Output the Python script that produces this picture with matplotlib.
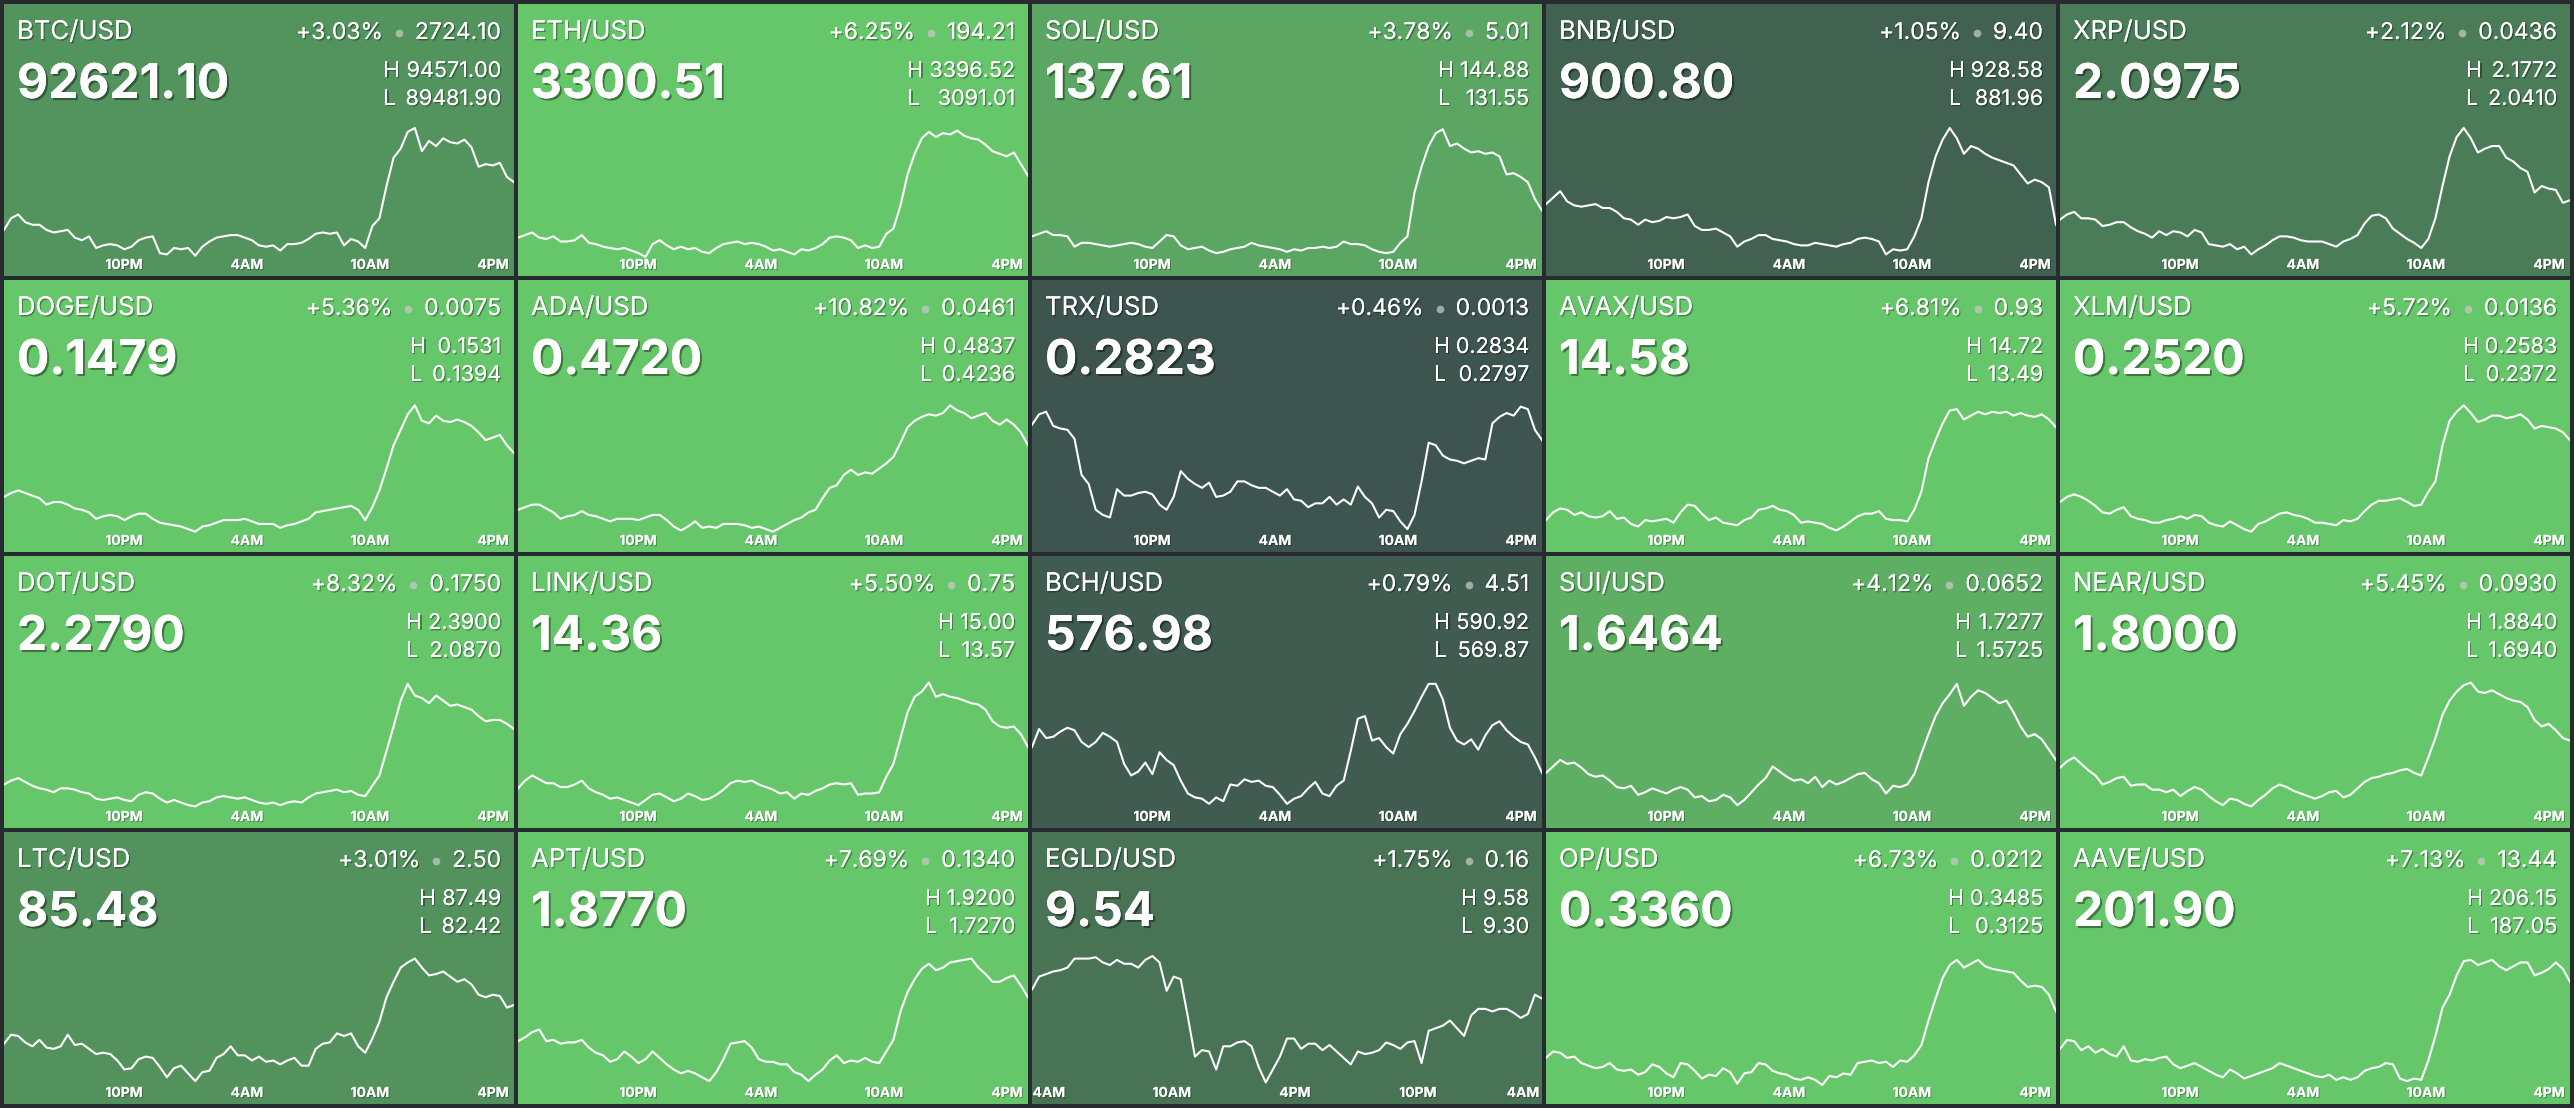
import numpy as np
import matplotlib
matplotlib.use("Agg")
import matplotlib.pyplot as plt
import matplotlib.patheffects as pe

# ---- tile text data ----
pairs = ["BTC/USD", "ETH/USD", "SOL/USD", "BNB/USD", "XRP/USD",
         "DOGE/USD", "ADA/USD", "TRX/USD", "AVAX/USD", "XLM/USD",
         "DOT/USD", "LINK/USD", "BCH/USD", "SUI/USD", "NEAR/USD",
         "LTC/USD", "APT/USD", "EGLD/USD", "OP/USD", "AAVE/USD"]
prices = ["92621.10", "3300.51", "137.61", "900.80", "2.0975",
          "0.1479", "0.4720", "0.2823", "14.58", "0.2520",
          "2.2790", "14.36", "576.98", "1.6464", "1.8000",
          "85.48", "1.8770", "9.54", "0.3360", "201.90"]
pct_change = [3.03, 6.25, 3.78, 1.05, 2.12,
              5.36, 10.82, 0.46, 6.81, 5.72,
              8.32, 5.50, 0.79, 4.12, 5.45,
              3.01, 7.69, 1.75, 6.73, 7.13]
abs_change = ["2724.10", "194.21", "5.01", "9.40", "0.0436",
              "0.0075", "0.0461", "0.0013", "0.93", "0.0136",
              "0.1750", "0.75", "4.51", "0.0652", "0.0930",
              "2.50", "0.1340", "0.16", "0.0212", "13.44"]
highs = ["94571.00", "3396.52", "144.88", "928.58", "2.1772",
         "0.1531", "0.4837", "0.2834", "14.72", "0.2583",
         "2.3900", "15.00", "590.92", "1.7277", "1.8840",
         "87.49", "1.9200", "9.58", "0.3485", "206.15"]
lows = ["89481.90", "3091.01", "131.55", "881.96", "2.0410",
        "0.1394", "0.4236", "0.2797", "13.49", "0.2372",
        "2.0870", "13.57", "569.87", "1.5725", "1.6940",
        "82.42", "1.7270", "9.30", "0.3125", "187.05"]

# ---- 24h sparklines, level within each tile's range (0 = low, 100 = high) ----
btc = [21, 30, 33, 27, 25, 25, 21, 19, 20, 21, 15, 13, 16, 7, 9, 10, 9, 6, 8, 13,
       15, 16, 3, 2, 7, 6, 7, 1, 8, 12, 15, 16, 17, 17, 15, 13, 9, 8, 9, 5,
       10, 10, 11, 14, 18, 19, 18, 19, 9, 14, 12, 7, 24, 30, 55, 77, 84, 97, 100, 82,
       90, 86, 92, 89, 88, 91, 85, 70, 72, 71, 73, 62, 58]
eth = [15, 17, 19, 15, 14, 16, 12, 12, 13, 17, 11, 10, 8, 7, 6, 7, 5, 3, 0, 10,
       13, 9, 6, 8, 6, 7, 4, 3, 7, 10, 11, 12, 10, 11, 10, 8, 5, 6, 4, 2,
       6, 5, 7, 10, 15, 16, 15, 13, 7, 9, 7, 8, 18, 22, 40, 64, 80, 92, 97, 93,
       96, 95, 98, 94, 92, 91, 87, 82, 80, 78, 81, 72, 63]
sol = [16, 18, 20, 17, 17, 16, 8, 11, 11, 10, 9, 8, 9, 10, 11, 10, 8, 7, 12, 17,
       16, 9, 6, 7, 8, 5, 3, 4, 6, 7, 8, 11, 9, 8, 7, 6, 4, 6, 5, 7,
       7, 8, 7, 8, 12, 10, 10, 9, 6, 4, 3, 4, 11, 16, 50, 70, 86, 96, 99, 86,
       88, 84, 81, 82, 80, 81, 78, 64, 65, 62, 58, 45, 36]
bnb = [41, 46, 51, 43, 40, 39, 40, 41, 38, 38, 35, 30, 29, 25, 29, 27, 28, 31, 30, 31,
       33, 24, 21, 21, 22, 19, 16, 8, 12, 14, 17, 17, 14, 13, 12, 10, 9, 9, 11, 10,
       9, 8, 10, 11, 14, 15, 14, 12, 2, 6, 5, 6, 16, 30, 58, 78, 91, 100, 92, 80,
       86, 84, 80, 77, 75, 73, 71, 64, 57, 60, 58, 54, 25]
xrp = [29, 33, 35, 30, 30, 29, 24, 25, 27, 27, 23, 20, 18, 15, 20, 17, 20, 19, 16, 21,
       19, 10, 9, 8, 10, 6, 8, 2, 6, 9, 13, 16, 16, 15, 13, 12, 12, 12, 10, 8,
       12, 14, 17, 26, 32, 33, 30, 22, 18, 14, 11, 7, 14, 30, 55, 78, 93, 100, 92, 81,
       84, 86, 86, 77, 74, 69, 66, 50, 55, 53, 52, 42, 44]
doge = [28, 31, 33, 31, 29, 27, 22, 24, 24, 22, 19, 18, 16, 11, 13, 14, 13, 10, 13, 15,
        15, 11, 8, 7, 6, 5, 3, 1, 5, 6, 8, 10, 10, 10, 11, 9, 7, 7, 7, 4,
        6, 7, 9, 11, 16, 17, 18, 19, 20, 21, 18, 10, 20, 33, 50, 68, 80, 92, 99, 87,
        85, 91, 87, 86, 88, 86, 83, 78, 72, 74, 76, 68, 62]
ada = [18, 20, 22, 22, 19, 16, 11, 13, 14, 17, 14, 13, 11, 9, 11, 11, 11, 10, 12, 14,
       14, 10, 5, 2, 5, 9, 4, 5, 4, 7, 7, 7, 6, 4, 5, 3, 1, 4, 7, 10,
       12, 16, 18, 27, 35, 37, 45, 49, 45, 47, 46, 50, 54, 59, 70, 82, 87, 90, 92, 91,
       93, 99, 95, 93, 89, 91, 93, 87, 84, 88, 84, 78, 68]
trx = [84, 92, 94, 83, 81, 80, 73, 45, 38, 18, 14, 12, 34, 29, 29, 31, 32, 30, 22, 18,
       28, 48, 42, 38, 35, 39, 28, 29, 32, 40, 40, 37, 35, 35, 32, 29, 34, 26, 25, 20,
       23, 23, 28, 22, 26, 22, 36, 28, 23, 12, 18, 17, 9, 3, 14, 40, 70, 68, 60, 57,
       56, 54, 56, 58, 57, 85, 90, 93, 91, 98, 96, 80, 72]
avax = [10, 16, 19, 18, 14, 16, 13, 12, 13, 17, 11, 12, 7, 5, 10, 9, 10, 11, 8, 16,
        22, 21, 15, 10, 12, 8, 7, 6, 10, 12, 18, 19, 21, 18, 17, 14, 8, 9, 8, 7,
        4, 2, 5, 9, 13, 15, 15, 17, 11, 10, 10, 9, 18, 32, 58, 72, 85, 95, 96, 88,
        91, 94, 92, 94, 93, 94, 91, 93, 91, 90, 92, 88, 82]
xlm = [24, 28, 30, 28, 25, 21, 16, 15, 18, 20, 13, 11, 10, 8, 8, 10, 11, 13, 11, 14,
       13, 8, 6, 5, 9, 6, 3, 1, 7, 9, 12, 15, 16, 14, 13, 11, 8, 8, 7, 6,
       10, 9, 11, 17, 22, 25, 25, 26, 27, 24, 21, 22, 32, 40, 68, 87, 94, 99, 93, 86,
       88, 91, 91, 89, 90, 92, 88, 81, 83, 82, 81, 78, 72]
dot = [19, 22, 24, 21, 18, 16, 15, 13, 16, 16, 15, 13, 12, 8, 7, 8, 9, 7, 6, 11,
       13, 12, 8, 5, 7, 5, 3, 2, 5, 6, 9, 10, 9, 8, 9, 7, 5, 4, 5, 3,
       5, 6, 5, 9, 12, 13, 14, 15, 13, 14, 11, 10, 18, 26, 45, 64, 84, 97, 88, 86,
       82, 88, 84, 80, 81, 79, 77, 72, 68, 69, 69, 66, 62]
link = [16, 22, 26, 23, 20, 20, 17, 17, 19, 22, 16, 13, 11, 8, 9, 7, 5, 3, 7, 11,
        12, 9, 6, 8, 12, 10, 7, 8, 11, 15, 20, 22, 21, 22, 19, 17, 15, 12, 13, 8,
        12, 11, 14, 16, 19, 20, 19, 20, 11, 12, 12, 13, 25, 35, 55, 75, 87, 91, 98, 87,
        89, 87, 86, 84, 82, 81, 77, 68, 64, 63, 64, 58, 48]
bch = [48, 62, 55, 56, 60, 63, 61, 52, 48, 52, 59, 56, 52, 35, 26, 29, 36, 27, 44, 38,
       34, 22, 12, 9, 8, 4, 9, 6, 19, 18, 23, 21, 22, 18, 17, 11, 4, 8, 10, 16,
       21, 12, 10, 18, 22, 45, 70, 72, 53, 55, 48, 43, 58, 66, 76, 87, 97, 97, 85, 63,
       53, 50, 54, 46, 57, 65, 68, 61, 56, 52, 50, 40, 28]
sui = [28, 33, 38, 35, 36, 32, 27, 25, 26, 22, 17, 16, 18, 11, 13, 16, 14, 12, 15, 17,
       15, 9, 10, 6, 7, 11, 9, 3, 7, 13, 19, 24, 33, 29, 25, 22, 23, 20, 25, 17,
       22, 19, 21, 24, 27, 28, 23, 20, 12, 18, 17, 19, 27, 43, 58, 72, 82, 89, 97, 80,
       87, 92, 90, 86, 82, 84, 75, 64, 56, 58, 54, 46, 38]
near = [32, 37, 40, 35, 30, 26, 19, 21, 24, 25, 18, 19, 19, 15, 15, 13, 15, 10, 14, 17,
        15, 10, 6, 3, 8, 7, 4, 2, 7, 11, 16, 19, 17, 14, 12, 10, 8, 10, 13, 14,
        9, 11, 16, 21, 24, 25, 27, 28, 30, 31, 28, 26, 40, 55, 73, 84, 91, 96, 98, 91,
        90, 92, 89, 86, 84, 83, 79, 69, 64, 66, 61, 55, 53]
ltc = [32, 39, 38, 33, 30, 35, 29, 28, 30, 39, 31, 32, 28, 24, 25, 24, 19, 12, 13, 20,
       22, 21, 14, 6, 13, 15, 9, 3, 10, 11, 21, 24, 30, 23, 23, 19, 22, 18, 19, 16,
       19, 21, 15, 15, 28, 32, 33, 40, 38, 40, 30, 25, 36, 49, 68, 80, 91, 95, 98, 91,
       85, 86, 88, 84, 80, 82, 78, 70, 68, 70, 69, 60, 62]
apt = [34, 37, 41, 43, 34, 35, 32, 33, 33, 35, 29, 25, 23, 18, 20, 26, 22, 17, 20, 26,
       21, 16, 12, 9, 11, 9, 6, 3, 10, 20, 32, 33, 34, 29, 20, 18, 18, 16, 16, 10,
       8, 3, 8, 12, 19, 23, 17, 19, 18, 21, 18, 17, 26, 35, 57, 72, 82, 90, 94, 89,
       91, 95, 96, 97, 98, 91, 86, 80, 80, 83, 85, 77, 68]
egld = [74, 84, 86, 88, 89, 91, 98, 98, 98, 99, 95, 93, 97, 94, 94, 91, 97, 100, 95, 73,
        84, 82, 53, 22, 27, 26, 12, 30, 30, 33, 34, 30, 14, 2, 12, 22, 36, 36, 28, 32,
        32, 27, 31, 26, 21, 16, 26, 24, 25, 27, 33, 31, 28, 33, 34, 17, 42, 44, 46, 50,
        44, 38, 54, 59, 59, 57, 59, 59, 56, 52, 55, 70, 67]
op = [21, 26, 25, 21, 22, 17, 15, 13, 14, 17, 12, 11, 12, 8, 10, 16, 14, 9, 6, 17,
      16, 11, 5, 8, 7, 13, 10, 1, 9, 10, 17, 16, 11, 9, 8, 5, 4, 6, 4, 0,
      7, 6, 9, 8, 17, 18, 19, 17, 18, 14, 19, 18, 23, 31, 50, 67, 83, 93, 97, 91,
      94, 97, 92, 90, 89, 88, 87, 81, 76, 77, 76, 70, 57]
aave = [28, 35, 34, 27, 30, 25, 28, 24, 22, 30, 19, 18, 20, 19, 21, 22, 16, 13, 15, 17,
        14, 11, 8, 6, 12, 9, 5, 7, 9, 11, 13, 17, 15, 13, 11, 9, 7, 6, 8, 4,
        6, 4, 6, 11, 13, 14, 17, 16, 5, 3, 5, 4, 19, 38, 60, 70, 85, 96, 97, 93,
        95, 97, 92, 89, 92, 95, 95, 85, 87, 90, 95, 90, 80]
sparks = [btc, eth, sol, bnb, xrp, doge, ada, trx, avax, xlm,
          dot, link, bch, sui, near, ltc, apt, egld, op, aave]

# time axis (hours over the window) and its tick labels
span_hours = 24.88
std_ticks = [5.85, 11.85, 17.85, 23.85]
std_labels = ["10PM", "4AM", "10AM", "4PM"]
egld_ticks = [0.82, 6.82, 12.82, 18.82, 23.95]
egld_labels = ["4AM", "10AM", "4PM", "10PM", "4AM"]

# ---- layout (pixels) ----
W, H = 2574, 1108
GAP = 4
TW = (W - 6 * GAP) / 5
TH = (H - 5 * GAP) / 4
BG = "#272a2f"
DARK = np.array([58, 76, 76]) / 255
BRIGHT = np.array([102, 199, 106]) / 255
FONT = "Inter"


def tile_color(p):
    t = min(max(p / 5.0, 0.0), 1.0) ** 1.1
    return DARK + (BRIGHT - DARK) * t


def shadow(off=1.0, a=0.35):
    return [pe.withSimplePatchShadow(offset=(off, -off), shadow_rgbFace="black", alpha=a), pe.Normal()]


fig = plt.figure(figsize=(W / 100, H / 100), dpi=100)
fig.patch.set_facecolor(BG)
renderer = fig.canvas.get_renderer()


def put(ax, px, py, s, **kw):
    # px, py in pixels from tile's top-left corner
    return ax.text(px / TW, 1 - py / TH, s, transform=ax.transAxes, **kw)


def width_px(t):
    return t.get_window_extent(renderer).width


for k in range(20):
    r, c = divmod(k, 5)
    x0 = GAP + c * (TW + GAP)
    y0 = GAP + r * (TH + GAP)
    ax = fig.add_axes([x0 / W, 1 - (y0 + TH) / H, TW / W, TH / H])
    ax.set_facecolor(tile_color(pct_change[k]))
    for sp in ax.spines.values():
        sp.set_visible(False)
    ax.set_xticks([])
    ax.set_yticks([])

    lv = sparks[k]
    xs = np.linspace(0, span_hours, len(lv))
    ax.plot(xs, lv, color="white", lw=1.5, solid_joinstyle="round")
    ax.set_xlim(0, span_hours)
    # level 100 sits 124px below tile top, level 0 at 253px
    top_lv = 100 + 124 / 129 * 100
    bot_lv = -(TH - 253) / 129 * 100
    ax.set_ylim(bot_lv, top_lv)

    ticks, labels = (egld_ticks, egld_labels) if pairs[k] == "EGLD/USD" else (std_ticks, std_labels)
    for tx, tl in zip(ticks, labels):
        ax.text(tx, 1 - 265 / TH, tl, transform=ax.get_xaxis_transform(),
                ha="center", va="baseline", fontsize=10, fontweight="bold",
                family=FONT, color="white", alpha=0.92, path_effects=shadow(0.8, 0.3))

    # pair and last price
    put(ax, 13, 35, pairs[k], ha="left", va="baseline", fontsize=18.5,
        family=FONT, color="white", path_effects=shadow())
    put(ax, 13, 94, prices[k], ha="left", va="baseline", fontsize=34.5,
        fontweight="bold", family=FONT, color="white", path_effects=shadow(1.5, 0.4))

    # change line: "+x.xx%  •  change"
    right = 497
    t_chg = put(ax, right, 35, abs_change[k], ha="right", va="baseline", fontsize=16.5,
                family=FONT, color="white", path_effects=shadow())
    chg_left = right - width_px(t_chg)
    dot_x = chg_left - 16
    ax.plot([dot_x / TW], [1 - 29 / TH], marker="o", ms=5.5, color="#c4c8c4", alpha=0.75,
            mec="none", transform=ax.transAxes)
    put(ax, dot_x - 16, 35, f"+{pct_change[k]:.2f}%", ha="right", va="baseline",
        fontsize=16.5, family=FONT, color="white", path_effects=shadow())

    # high / low
    t_h = put(ax, right, 73, highs[k], ha="right", va="baseline", fontsize=15.5,
              family=FONT, color="white", path_effects=shadow())
    t_l = put(ax, right, 101, lows[k], ha="right", va="baseline", fontsize=15.5,
              family=FONT, color="white", path_effects=shadow())
    let_x = right - max(width_px(t_h), width_px(t_l)) - 22
    put(ax, let_x, 73, "H", ha="left", va="baseline", fontsize=15.5,
        family=FONT, color="white", path_effects=shadow())
    put(ax, let_x, 101, "L", ha="left", va="baseline", fontsize=15.5,
        family=FONT, color="white", path_effects=shadow())

fig.savefig("out.png", dpi=100, facecolor=BG)
